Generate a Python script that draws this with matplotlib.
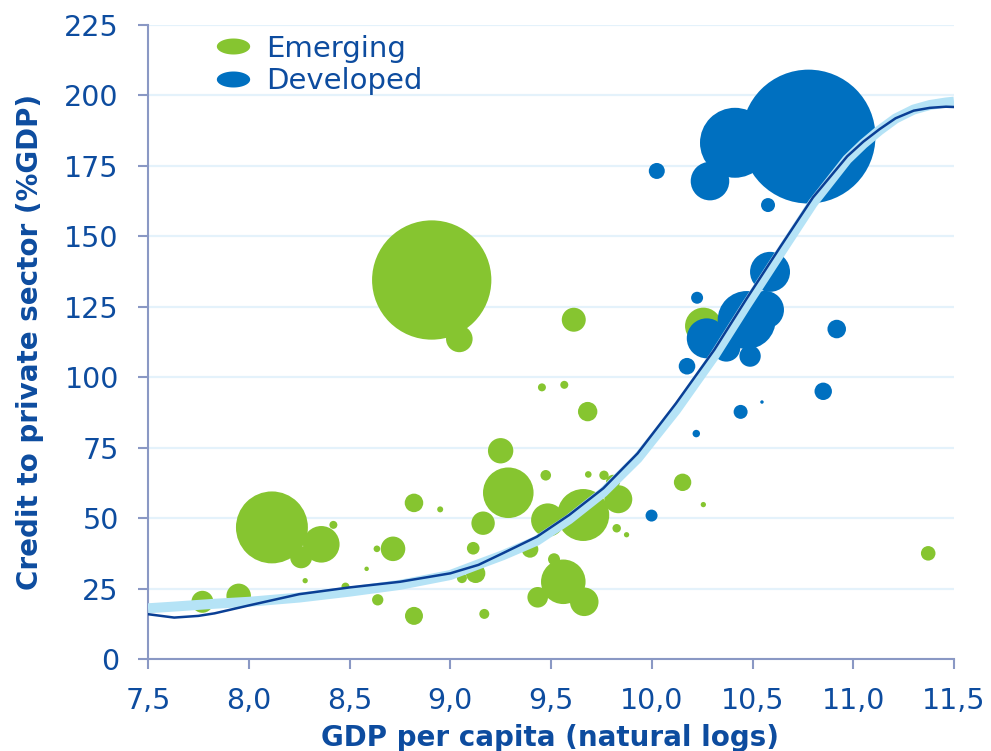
import numpy as np
import matplotlib
matplotlib.use("Agg")
import matplotlib.pyplot as plt
from matplotlib.lines import Line2D
from matplotlib.path import Path

# emerging economies: ln GDP per capita, credit (%GDP), bubble weight
em_x = [7.77, 7.95, 8.115, 8.26, 8.28, 8.36, 8.42, 8.48, 8.585, 8.636, 8.716, 8.64,
        8.82, 8.95, 8.82, 8.908, 9.045, 9.613, 9.455, 9.566, 9.682, 9.25, 9.288,
        9.474, 9.685, 9.763, 9.834, 9.808, 9.66, 9.484, 9.826, 9.875, 9.163, 9.114,
        9.126, 9.058, 9.396, 9.561, 9.515, 9.434, 9.665, 9.169, 10.153, 10.256,
        11.372, 10.256]
em_y = [20.3, 22.4, 46.7, 36.1, 27.8, 40.7, 47.6, 25.7, 32.0, 39.1, 39.1, 21.0,
        55.4, 53.1, 15.3, 134.5, 113.6, 120.4, 96.4, 97.3, 87.8, 73.9, 59.0,
        65.2, 65.5, 65.2, 56.7, 62.9, 51.1, 49.3, 46.4, 44.1, 48.2, 39.3,
        30.4, 28.7, 38.9, 27.4, 35.4, 21.9, 20.3, 16.0, 62.7, 54.8,
        37.5, 118.2]
em_w = [12.1, 15.1, 129.6, 12.1, 0.7, 33.5, 1.6, 1.6, 0.5, 1.1, 15.1, 3.2,
        8.6, 0.9, 8.1, 356.4, 17.7, 14.4, 1.6, 1.6, 9.4, 16.1, 64.0,
        2.8, 1.1, 2.2, 19.6, 4.9, 67.6, 27.9, 1.8, 0.7, 13.7, 4.0,
        9.4, 2.5, 6.9, 49.7, 3.6, 10.6, 20.4, 2.5, 7.6, 0.7,
        5.3, 33.5]

# developed economies
dv_x = [10.025, 10.289, 10.413, 10.778, 10.577, 10.587, 10.562, 10.471, 10.273,
        10.488, 10.225, 10.175, 10.918, 10.851, 10.441, 10.547, 10.221, 9.999, 10.37]
dv_y = [173.2, 169.6, 183.2, 185.4, 161.1, 137.4, 123.9, 120.3, 113.8,
        107.5, 128.2, 103.9, 117.1, 95.0, 87.7, 91.2, 80.0, 50.9, 110.5]
dv_w = [6.4, 37.2, 122.5, 448.9, 4.9, 40.0, 36.1, 84.1, 40.0,
        11.4, 3.6, 6.9, 8.6, 7.6, 4.9, 0.3, 1.4, 3.6, 19.6]

# fitted curves
fit_x = [7.5, 7.63, 7.75, 7.83, 8.0, 8.25, 8.5, 8.75, 9.0, 9.14, 9.26, 9.43, 9.59,
         9.76, 9.93, 10.12, 10.31, 10.47, 10.64, 10.80, 10.97, 11.05, 11.13, 11.21,
         11.30, 11.38, 11.46, 11.5]
fit_dark = [15.9, 14.7, 15.3, 16.2, 19.0, 23.0, 25.4, 27.4, 30.4, 33.4, 37.5, 43.4, 51.1,
            60.6, 73.0, 90.7, 109.7, 127.8, 146.5, 163.8, 178.4, 183.6, 188.0, 191.9,
            194.6, 195.6, 196.0, 195.9]
fit_light = [18.0, 18.6, 19.2, 19.6, 20.3, 21.8, 23.9, 26.3, 29.8, 33.6, 36.8, 42.0, 49.6,
             59.2, 71.2, 88.3, 107.5, 125.6, 144.3, 161.8, 177.3, 182.8, 187.6, 191.8,
             195.0, 196.6, 197.5, 197.8]

xticks = [7.5, 8.0, 8.5, 9.0, 9.5, 10.0, 10.5, 11.0, 11.5]
xtick_labels = ["7,5", "8,0", "8,5", "9,0", "9,5", "10,0", "10,5", "11,0", "11,5"]
yticks = [0, 25, 50, 75, 100, 125, 150, 175, 200, 225]

green = "#86C530"
blue = "#0070C0"
light = "#B5E3F6"
navy = "#0A3F95"
txt = "#0D4C9F"
spine = "#8A98C4"

fig = plt.figure(figsize=(9.91, 7.51), dpi=100)
ax = fig.add_axes([148/991, 92/751, 806/991, 634/751])

scale = 20.7
order = np.argsort(em_w)[::-1]
ax.scatter(np.array(em_x)[order], np.array(em_y)[order], s=np.array(em_w)[order]*scale,
           color=green, edgecolors="none", zorder=3)
order = np.argsort(dv_w)[::-1]
ax.scatter(np.array(dv_x)[order], np.array(dv_y)[order], s=np.array(dv_w)[order]*scale,
           color=blue, edgecolors="none", zorder=4)

ax.plot(fit_x, fit_light, color=light, lw=7.2, solid_capstyle="butt",
        solid_joinstyle="round", zorder=5)
ax.plot(fit_x, fit_dark, color=navy, lw=1.8, solid_joinstyle="round", zorder=6)

ax.set_xlim(7.5, 11.5)
ax.set_ylim(0, 225)
ax.set_xticks(xticks)
ax.set_xticklabels(xtick_labels)
ax.set_yticks(yticks)

ax.grid(axis="y", color="#E4F2FB", lw=1.6, zorder=0)
ax.set_axisbelow(True)
for s in ["top", "right"]:
    ax.spines[s].set_visible(False)
for s in ["left", "bottom"]:
    ax.spines[s].set_color(spine)
    ax.spines[s].set_linewidth(1.5)

ax.tick_params(axis="both", direction="out", length=7.5, width=1.5, color=spine,
               labelcolor=txt, labelsize=20.5)
ax.tick_params(axis="y", pad=13.5)
ax.tick_params(axis="x", pad=12.5)

ax.set_xlabel("GDP per capita (natural logs)", fontsize=20, fontweight="bold", color=txt)
ax.set_ylabel("Credit to private sector (%GDP)", fontsize=20, fontweight="bold", color=txt)
ax.xaxis.set_label_coords(0.499, -0.1025)
ax.yaxis.set_label_coords(-0.129, 0.5)

# ellipse marker for the legend
t = np.linspace(0, 2*np.pi, 60)
ell = Path(np.column_stack([np.cos(t), 0.48*np.sin(t)]))
handles = [Line2D([], [], ls="none", marker=ell, ms=24, color=green, mec="none"),
           Line2D([], [], ls="none", marker=ell, ms=24, color=blue, mec="none")]
leg = ax.legend(handles, ["Emerging", "Developed"], loc="upper left",
                bbox_to_anchor=(0.084, 0.985), frameon=False, fontsize=21,
                handlelength=1.2, handletextpad=0.54, labelspacing=0.17,
                borderpad=0, borderaxespad=0)
for tx in leg.get_texts():
    tx.set_color(txt)

fig.savefig("out.png", dpi=100)
